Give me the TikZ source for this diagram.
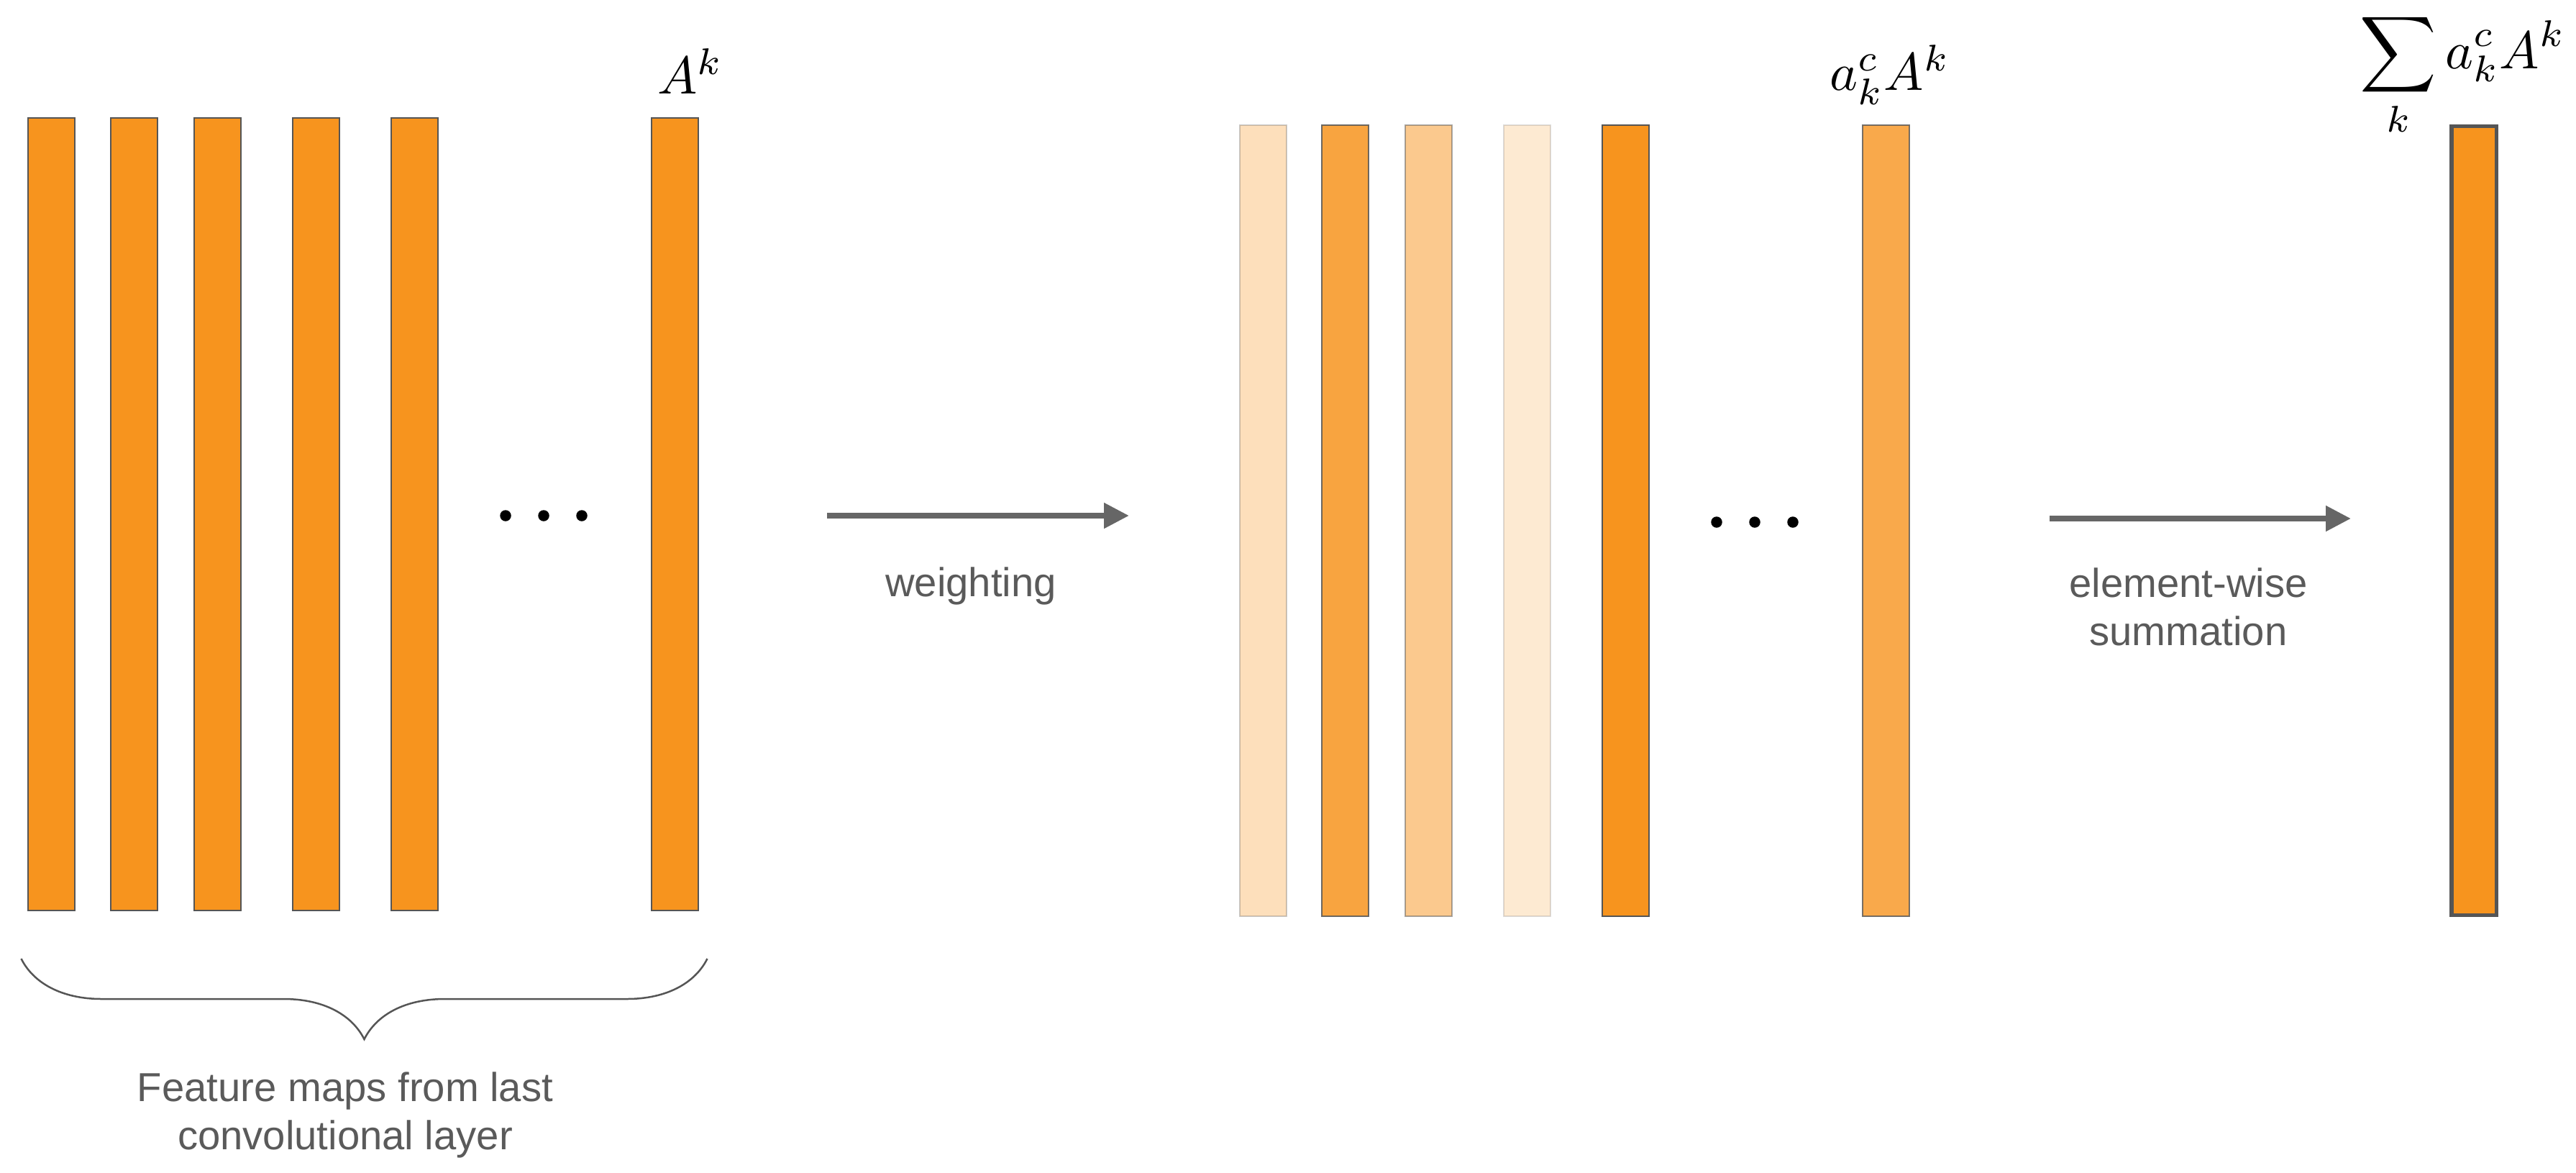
\documentclass[tikz,border=0pt]{standalone}
\usepackage{fontspec}
\newfontfamily\lblfont{Liberation Sans}
\usetikzlibrary{arrows.meta,decorations.pathreplacing}
\definecolor{fmorange}{HTML}{F7941E}
\definecolor{fmgray}{HTML}{555555}
\definecolor{arrgray}{HTML}{666666}
\definecolor{txtgray}{HTML}{5A5A5A}

\begin{document}
\begin{tikzpicture}[
	fmap/.style={rectangle,draw=fmgray,fill=fmorange,line width=0.02cm,minimum width=0.65cm,minimum height=11.02cm,inner sep=0,outer sep=0},
	wmap/.style={fmap,minimum height=11.0cm},
	dot/.style={circle,fill=black,inner sep=0,minimum size=0.155cm},
	flow/.style={-{Triangle[length=0.35cm,width=0.34cm]},line width=0.08cm,arrgray},
	lbl/.style={txtgray,font=\lblfont\fontsize{16}{18.8}\selectfont,align=center,anchor=base},
	mlbl/.style={scale=2.1,inner sep=0,anchor=base west}
]
	\useasboundingbox (0,0) rectangle (35.82,-16.30);

	% feature maps
	\node[fmap] (fm1) at (0.715,-7.15) {};
	\node[fmap] (fm2) at (1.865,-7.15) {};
	\node[fmap] (fm3) at (3.025,-7.15) {};
	\node[fmap] (fm4) at (4.395,-7.15) {};
	\node[fmap] (fm5) at (5.765,-7.15) {};
	\node[fmap] (fm6) at (9.385,-7.15) {};
	\node[dot] (fd1) at (7.03,-7.17) {};
	\node[dot] (fd2) at (7.56,-7.17) {};
	\node[dot] (fd3) at (8.09,-7.17) {};
	\node[mlbl] (fml) at (9.13,-1.307) {$A^k$};

	% brace
	\coordinate (bl) at (0.295,-13.33);
	\coordinate (br) at (9.835,-13.33);
	\draw[decorate,decoration={brace,mirror,amplitude=1.12cm},line width=0.025cm,fmgray] (bl) -- (br);
	\node[lbl] (fmt) at (4.80,-15.98) {Feature maps from last\\convolutional layer};

	% weighting
	\coordinate (ws) at (11.50,-7.17);
	\coordinate (we) at (15.70,-7.17);
	\draw[flow] (ws) -- (we);
	\node[lbl] (wt) at (13.50,-8.29) {weighting};

	% weighted maps
	\node[wmap,opacity=0.3] (wm1) at (17.56,-7.24) {};
	\node[wmap,opacity=0.85] (wm2) at (18.705,-7.24) {};
	\node[wmap,opacity=0.5] (wm3) at (19.86,-7.24) {};
	\node[wmap,opacity=0.2] (wm4) at (21.235,-7.24) {};
	\node[wmap] (wm5) at (22.605,-7.24) {};
	\node[wmap,opacity=0.8] (wm6) at (26.225,-7.24) {};
	\node[dot] (wd1) at (23.87,-7.26) {};
	\node[dot] (wd2) at (24.40,-7.26) {};
	\node[dot] (wd3) at (24.93,-7.26) {};
	\node[mlbl] (wml) at (25.43,-1.25) {$a_k^c A^k$};

	% summation
	\coordinate (ss) at (28.50,-7.21);
	\coordinate (se) at (32.69,-7.21);
	\draw[flow] (ss) -- (se);
	\node[lbl] (st) at (30.43,-8.97) {element-wise\\summation};

	\node[fmap,line width=0.055cm,minimum width=0.625cm,minimum height=10.97cm] (sm) at (34.40,-7.24) {};
	\node[mlbl] (sml) at (32.80,-0.95) {$\displaystyle\sum_k a_k^c A^k$};
\end{tikzpicture}
\end{document}
